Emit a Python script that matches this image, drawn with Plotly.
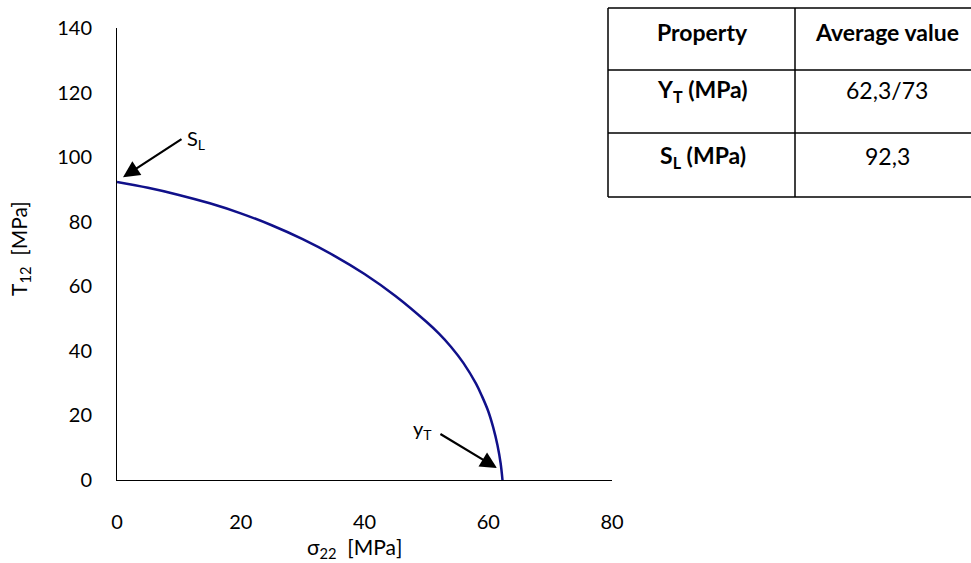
import plotly.graph_objects as go

# Failure envelope: transverse stress vs. in-plane shear stress
sigma22 = [0, 5, 10, 15, 20, 25, 30, 35, 40, 45, 50, 52, 54, 56, 58, 59, 60, 60.8, 61.5, 62.0, 62.3]
tau12 = [92.3, 90.5, 88.3, 85.7, 82.6, 78.9, 74.6, 69.6, 63.8, 57.0, 49.0, 45.4, 41.2, 36.2, 29.9,
         25.9, 21.3, 16.3, 10.7, 5.2, 0]

# Property table
table_header = ["Property", "Average value"]
table_props = ["Y<sub>T</sub> (MPa)", "S<sub>L</sub> (MPa)"]
table_values = ["62,3/73", "92,3"]

x_ticks = [0, 20, 40, 60, 80]
y_ticks = [0, 20, 40, 60, 80, 100, 120, 140]

W, H = 971, 563
ML, MR, MT, MB = 117, 359, 28, 83
PW, PH = W - ML - MR, H - MT - MB

def px(x):
    return (x - ML) / PW

def py(y):
    return (H - MB - y) / PH

FONT = "Lato, Carlito, Calibri, sans-serif"

fig = go.Figure()
fig.add_trace(go.Scatter(
    x=sigma22, y=tau12, mode="lines", line=dict(color="#10108a", width=2.5, shape="spline", smoothing=1),
    hoverinfo="skip", showlegend=False,
))

shapes = []
# table frame
tl, tr, tm = 608, 990, 795
rows = [8, 70, 133, 197]
for yy in rows:
    shapes.append(dict(type="line", xref="paper", yref="paper", x0=px(tl), x1=px(tr), y0=py(yy), y1=py(yy),
                       line=dict(color="black", width=1.5)))
for xx in (tl, tm):
    shapes.append(dict(type="line", xref="paper", yref="paper", x0=px(xx), x1=px(xx), y0=py(rows[0]), y1=py(rows[-1]),
                       line=dict(color="black", width=1.5)))


def label(xp, yp, text, size, xanchor="center", angle=0):
    return dict(xref="paper", yref="paper", x=px(xp), y=py(yp), text=text, textangle=angle,
                xanchor=xanchor, yanchor="middle", showarrow=False,
                font=dict(size=size, color="black", family=FONT))


annotations = []
c1, c2 = (tl + tm) / 2 + 1, 887
text_y = [32, 90, 156]
annotations.append(label(c1, text_y[0], "<b>%s</b>" % table_header[0], 23))
annotations.append(label(c2, text_y[0], "<b>%s</b>" % table_header[1], 23))
for i in range(2):
    annotations.append(label(c1, text_y[i + 1], "<b>%s</b>" % table_props[i], 23))
    annotations.append(label(c2, text_y[i + 1], table_values[i], 23))

# arrows pointing at the envelope intercepts
annotations.append(dict(x=0.97, y=93.8, xref="x", yref="y", ax=60, ay=-39, text="", showarrow=True,
                        arrowhead=2, arrowsize=1.5, arrowwidth=2.2, arrowcolor="black"))
annotations.append(dict(x=61.4, y=3.7, xref="x", yref="y", ax=-58, ay=-35, text="", showarrow=True,
                        arrowhead=2, arrowsize=1.5, arrowwidth=2.2, arrowcolor="black"))
annotations.append(label(185, 139, "S<sub>L</sub>", 20, xanchor="left"))
annotations.append(label(434, 429, "y<sub>T</sub>", 20, xanchor="right"))

# axis titles
annotations.append(label(354, 548, "σ<sub>22</sub>&nbsp;&nbsp;[MPa]", 21))
annotations.append(label(20, 249, "T<sub>12</sub>&nbsp;&nbsp;[MPa]", 21, angle=-90))

fig.update_layout(
    width=W, height=H, margin=dict(l=ML, r=MR, t=MT, b=MB),
    paper_bgcolor="white", plot_bgcolor="white",
    font=dict(family=FONT, size=20, color="black"),
    shapes=shapes, annotations=annotations,
    xaxis=dict(range=[0, 80], tickvals=x_ticks, showgrid=False, zeroline=False, showline=True,
               linecolor="black", linewidth=1, ticks="", ticklabelstandoff=24, tickfont=dict(size=20)),
    yaxis=dict(range=[0, 140], tickvals=y_ticks, showgrid=False, zeroline=False, showline=True,
               linecolor="black", linewidth=1, ticks="", ticklabelstandoff=20, tickfont=dict(size=20)),
)

fig.write_html("out.html")
